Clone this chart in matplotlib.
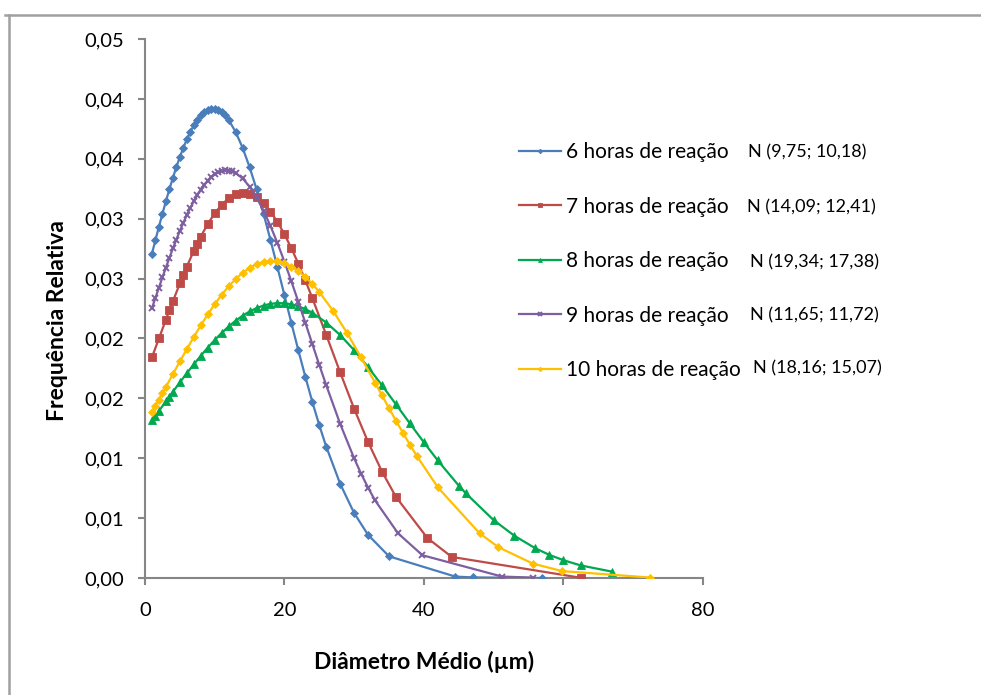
import matplotlib
matplotlib.use("Agg")
import matplotlib.pyplot as plt
from matplotlib.lines import Line2D
from matplotlib.ticker import FuncFormatter, MultipleLocator

plt.rcParams['font.family'] = ['Lato', 'DejaVu Sans']

# ---- data ----
x6 = [1, 1.5, 2, 2.5, 3, 3.5, 4, 4.5, 5, 5.5, 6, 6.5, 7, 7.5, 8, 8.5, 9, 9.5, 10, 10.5,
      11, 11.5, 12, 13, 14, 15, 16, 17, 18, 19, 20, 21, 22, 23, 24, 25, 26, 28, 30, 32,
      35, 44.5, 47, 57]
y6 = [0.02709, 0.02822, 0.02933, 0.03041, 0.03146, 0.03246, 0.03341, 0.03431, 0.03515,
      0.03592, 0.03662, 0.03724, 0.03779, 0.03825, 0.03862, 0.03890, 0.03908, 0.03918,
      0.03918, 0.03908, 0.03890, 0.03862, 0.03825, 0.03724, 0.03592, 0.03431, 0.03246,
      0.03041, 0.02822, 0.02594, 0.02361, 0.02128, 0.01900, 0.01680, 0.01471, 0.01276,
      0.01096, 0.00786, 0.00542, 0.00360, 0.00181, 0.00012, 0.00005, 0.0]

x7 = [1, 2, 3, 3.5, 4, 5, 5.5, 6, 7, 7.5, 8, 9, 10, 11, 12, 13, 14, 15, 16, 17, 18, 19,
      20, 21, 22, 23, 24, 26, 28, 30, 32, 34, 36, 40.5, 44, 62.5]
y7 = [0.01843, 0.02000, 0.02157, 0.02234, 0.02310, 0.02459, 0.02530, 0.02600, 0.02731,
      0.02792, 0.02850, 0.02956, 0.03045, 0.03117, 0.03170, 0.03203, 0.03215, 0.03206,
      0.03177, 0.03128, 0.03059, 0.02973, 0.02870, 0.02753, 0.02624, 0.02485, 0.02337,
      0.02029, 0.01716, 0.01413, 0.01135, 0.00888, 0.00677, 0.00334, 0.00176, 0.00002]

x8 = [1, 1.5, 2, 3, 3.5, 4, 5, 6, 7, 8, 9, 10, 11, 12, 13, 14, 15, 16, 17, 18, 19, 20,
      21, 22, 23, 24, 26, 28, 30, 32, 34, 36, 38, 40, 42, 45, 46, 50, 53, 56, 58, 60,
      62.5, 67]
y8 = [0.01316, 0.01355, 0.01395, 0.01475, 0.01515, 0.01555, 0.01633, 0.01710, 0.01784,
      0.01855, 0.01923, 0.01987, 0.02046, 0.02100, 0.02148, 0.02190, 0.02225, 0.02253,
      0.02275, 0.02289, 0.02295, 0.02294, 0.02285, 0.02269, 0.02245, 0.02214, 0.02133,
      0.02028, 0.01902, 0.01761, 0.01608, 0.01450, 0.01290, 0.01133, 0.00981, 0.00772,
      0.00708, 0.00484, 0.00352, 0.00248, 0.00193, 0.00149, 0.00105, 0.00053]

x9 = [1, 1.5, 2, 2.5, 3, 3.5, 4, 4.5, 5, 5.5, 6, 6.5, 7, 7.5, 8, 8.5, 9, 9.5, 10, 10.5,
      11, 11.5, 12, 12.5, 13, 14, 15, 16, 17, 18, 19, 20, 21, 22, 23, 24, 25, 26, 28, 30,
      31, 32, 33, 36.3, 39.8, 51.2, 55.7]
y9 = [0.02253, 0.02340, 0.02425, 0.02510, 0.02592, 0.02673, 0.02751, 0.02826, 0.02898,
      0.02966, 0.03031, 0.03091, 0.03146, 0.03197, 0.03243, 0.03283, 0.03318, 0.03347,
      0.03370, 0.03388, 0.03399, 0.03404, 0.03402, 0.03395, 0.03381, 0.03336, 0.03268,
      0.03177, 0.03067, 0.02939, 0.02796, 0.02641, 0.02476, 0.02305, 0.02130, 0.01954,
      0.01779, 0.01609, 0.01286, 0.00999, 0.00871, 0.00754, 0.00648, 0.00373, 0.00190,
      0.00012, 0.00003]

x10 = [1, 1.5, 2, 2.5, 3, 4, 5, 6, 7, 8, 9, 10, 11, 12, 13, 14, 15, 16, 17, 18, 19, 20,
       21, 22, 23, 24, 25, 27, 29, 31, 33, 34, 35, 36, 37, 38, 39, 42, 48, 50.7, 55.6,
       59.8, 72.4]
y10 = [0.01384, 0.01437, 0.01490, 0.01543, 0.01596, 0.01702, 0.01808, 0.01911, 0.02012,
       0.02109, 0.02200, 0.02286, 0.02365, 0.02435, 0.02496, 0.02548, 0.02589, 0.02620,
       0.02639, 0.02647, 0.02643, 0.02627, 0.02600, 0.02562, 0.02514, 0.02456, 0.02388,
       0.02229, 0.02044, 0.01841, 0.01630, 0.01524, 0.01418, 0.01313, 0.01212, 0.01113,
       0.01018, 0.00757, 0.00373, 0.00257, 0.00121, 0.00058, 0.00004]

labels = ["6 horas de reação", "7 horas de reação", "8 horas de reação",
          "9 horas de reação", "10 horas de reação"]
dist_labels = ["N (9,75; 10,18)", "N (14,09; 12,41)", "N (19,34; 17,38)",
               "N (11,65; 11,72)", "N (18,16; 15,07)"]
x_label = "Diâmetro Médio (µm)"
y_label = "Frequência Relativa"

series = [(x6, y6), (x7, y7), (x8, y8), (x9, y9), (x10, y10)]
colors = ["#4A7EBB", "#BE4B48", "#00A84F", "#7D5FA0", "#FFC000"]
markers = ["D", "s", "^", "x", "D"]
msizes = [4.5, 5.5, 5.5, 5.0, 4.5]

fig = plt.figure(figsize=(9.81, 6.95), dpi=100)
ax = fig.add_axes([145 / 981, 1 - 578 / 695, (702.7 - 145) / 981, (578 - 39) / 695])

handles = []
for (xs, ys), c, m, ms, lab in zip(series, colors, markers, msizes, labels):
    h, = ax.plot(xs, ys, color=c, lw=1.6, marker=m, ms=ms, mec=c, mfc=c,
                 mew=1.4 if m == "x" else 0.6, label=lab, zorder=3)
    handles.append(h)

ax.set_xlim(0, 80)
ax.set_ylim(0, 0.045)
ax.xaxis.set_major_locator(MultipleLocator(20))
ax.yaxis.set_major_locator(MultipleLocator(0.005))
ax.yaxis.set_major_formatter(FuncFormatter(
    lambda v, p: f"{v + 1e-9:.2f}".replace(".", ",")))

for s in ["top", "right"]:
    ax.spines[s].set_visible(False)
for s in ["left", "bottom"]:
    ax.spines[s].set_color("#868686")
    ax.spines[s].set_linewidth(1.5)
ax.tick_params(axis="both", colors="#868686", width=1.5, length=5, direction="out",
               labelcolor="black", labelsize=14.5)
ax.tick_params(axis="x", pad=12)
ax.tick_params(axis="y", pad=10)

fig.text(424 / 981, 1 - 662 / 695, x_label, ha="center", va="center",
         fontsize=16.5, fontweight="bold")
fig.text(58 / 981, 1 - 321 / 695, y_label, ha="center", va="center",
         rotation=90, fontsize=16.5, fontweight="bold")

leg = fig.legend(handles=handles, loc="upper left",
                 bbox_to_anchor=(519 / 981, 1 - 142 / 695),
                 frameon=False, fontsize=15, handlelength=2.0, handletextpad=0.25,
                 labelspacing=1.66, markerscale=0.5, borderpad=0, borderaxespad=0)

row_y = [152, 207, 262, 315, 368]
row_x = [748, 747, 750, 750, 753]
for t, xx, yy in zip(dist_labels, row_x, row_y):
    fig.text(xx / 981, 1 - yy / 695, t, ha="left", va="center", fontsize=13)

# chart-area border (Excel style)
fig.add_artist(Line2D([5 / 981, 1.0], [1 - 15 / 695, 1 - 15 / 695],
                      transform=fig.transFigure, color="#A0A0A0", lw=1.8))
fig.add_artist(Line2D([9 / 981, 9 / 981], [1 - 15 / 695, 0.0],
                      transform=fig.transFigure, color="#A0A0A0", lw=1.8))

fig.savefig("out.png", dpi=100)
